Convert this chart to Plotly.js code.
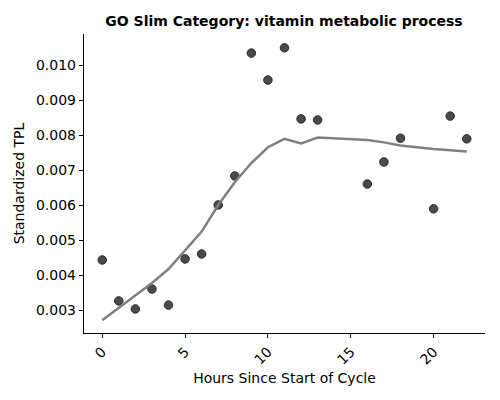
<!DOCTYPE html>
<html><head><meta charset="utf-8">
<script src="https://cdn.plot.ly/plotly-3.0.1.min.js"></script>
<style>html,body{margin:0;padding:0;background:#fff;}#chart{width:500px;height:400px;}</style>
</head><body><div id="chart"></div>
<script>
const hours = [0,1,2,3,4,5,6,7,8,9,10,11,12,13,16,17,18,20,21,22];
const tpl = [0.00443,0.00326,0.00303,0.00360,0.00314,0.00446,0.00460,0.00600,0.00683,0.01034,0.00957,0.01049,0.00846,0.00843,0.00660,0.00723,0.00791,0.00589,0.00854,0.00789];
const smoothHours = [0,1,2,3,4,5,6,7,8,9,10,11,12,13,16,17,18,20,21,22];
const smoothTpl = [0.00271,0.00306,0.00340,0.00377,0.00417,0.00470,0.00524,0.00600,0.00665,0.00720,0.00765,0.00789,0.00776,0.00793,0.00786,0.00779,0.00770,0.00760,0.00756,0.00753];
const xTicks = [0,5,10,15,20];
const yTicks = [0.003,0.004,0.005,0.006,0.007,0.008,0.009,0.010];

const font = "DejaVu Sans, sans-serif";
Plotly.newPlot('chart', [
  {x: hours, y: tpl, mode: 'markers', type: 'scatter',
   marker: {size: 8.5, color: 'rgba(64,64,64,0.95)', line: {color: '#2a2a2a', width: 1}}},
  {x: smoothHours, y: smoothTpl, mode: 'lines', type: 'scatter',
   line: {color: '#808080', width: 2.5}}
], {
  width: 500, height: 400,
  margin: {l: 84, r: 15, t: 34, b: 67},
  paper_bgcolor: '#fff', plot_bgcolor: '#fff',
  showlegend: false,
  font: {family: font, size: 14, color: '#000'},
  title: {text: '<b>GO Slim Category: vitamin metabolic process</b>', x: 0.568, xanchor: 'center', y: 0.947, yanchor: 'middle', font: {family: font, size: 14, color: '#000'}},
  xaxis: {range: [-1.1, 23.1], tickvals: xTicks, ticktext: xTicks.map(String), tickangle: -45,
    showgrid: false, zeroline: false, showline: true, linecolor: '#000', linewidth: 1.2,
    ticks: 'outside', ticklen: 4, tickcolor: '#000', tickfont: {size: 14},
    title: {text: 'Hours Since Start of Cycle', font: {size: 14}, standoff: 6}},
  yaxis: {range: [0.002343, 0.010886], tickvals: yTicks, ticktext: yTicks.map(v => v.toFixed(3)),
    showgrid: false, zeroline: false, showline: true, linecolor: '#000', linewidth: 1.2,
    ticks: 'outside', ticklen: 4, tickcolor: '#000', tickfont: {size: 14},
    title: {text: 'Standardized TPL', font: {size: 14}, standoff: 8}}
}, {staticPlot: true, displayModeBar: false});
</script></body></html>
